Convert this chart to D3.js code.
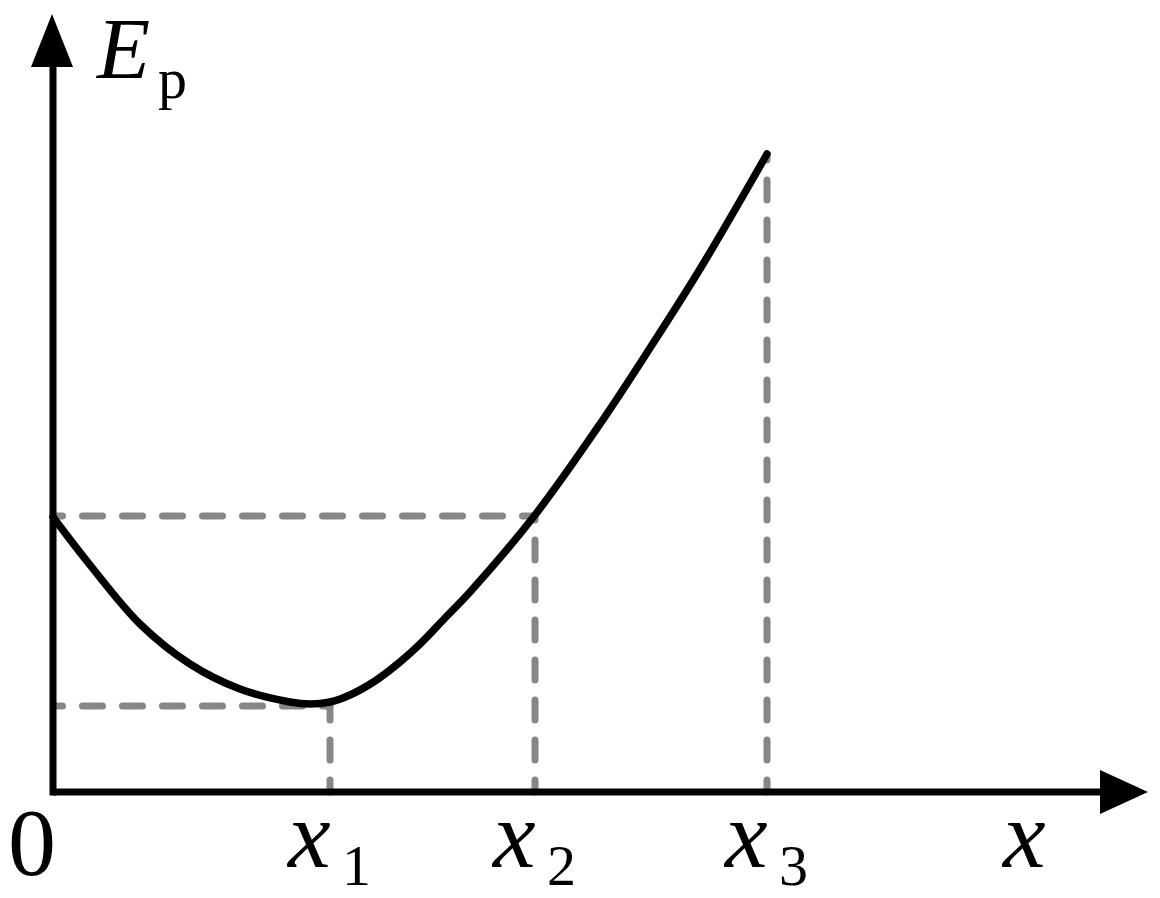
<!DOCTYPE html>
<html>
<head>
<meta charset="utf-8">
<script src="https://cdn.jsdelivr.net/npm/d3@7"></script>
<style>
  html, body { margin: 0; padding: 0; background: #fff; }
  svg { display: block; }
</style>
</head>
<body>
<svg id="chart" width="1160" height="898"></svg>
<script>
// ---- data (abstract units) ----
const curveX = [0, 0.37, 0.87, 1.37, 1.87, 2.37, 2.57, 2.77, 2.97, 3.22, 3.47, 3.67, 3.92, 4.17, 4.82, 5.47, 5.97, 6.47, 7.14];
const curveY = [2.75, 2.27, 1.68, 1.28, 1.03, 0.90, 0.88, 0.90, 0.97, 1.11, 1.30, 1.48, 1.74, 2.00, 2.77, 3.68, 4.44, 5.23, 6.38];
const tickNames = ["x", "x", "x"];
const tickSubs = ["1", "2", "3"];
const tickValues = [2.77, 4.82, 7.14];
const levelValues = [2.76, 0.86];          // horizontal dashed levels
const levelEnds = [4.82, 2.77];            // where the horizontal dashes end
const vertTops = [0.86, 2.76, 6.38];       // where vertical dashes start
const axisMax = { x: 10.95, y: 7.78 };
const labels = { origin: "0", xAxis: "x", yAxis: "E", ySub: "p" };

const FONT = "'Liberation Serif', 'Times New Roman', Times, serif";

// ---- scales ----
const x = d3.scaleLinear().domain([0, axisMax.x]).range([53, 1148]);
const y = d3.scaleLinear().domain([0, axisMax.y]).range([792, 14]);

const svg = d3.select("#chart");
const gray = "#878787";

// dashed guide lines
const guides = svg.append("g")
  .attr("stroke", gray).attr("stroke-width", 7)
  .attr("stroke-linecap", "round").attr("stroke-dasharray", "20,20").attr("fill", "none");

levelValues.forEach((v, i) => {
  guides.append("line")
    .attr("x1", x(0)).attr("x2", x(levelEnds[i]))
    .attr("y1", y(v)).attr("y2", y(v))
    .attr("stroke-dashoffset", 10.5);
});
tickValues.forEach((t, i) => {
  guides.append("line")
    .attr("x1", x(t)).attr("x2", x(t))
    .attr("y1", y(0)).attr("y2", y(vertTops[i]))
    .attr("stroke-dashoffset", 8);
});

// curve
const pts = curveX.map((v, i) => [v, curveY[i]]);
svg.append("path")
  .datum(pts)
  .attr("fill", "none").attr("stroke", "#000").attr("stroke-width", 7.5)
  .attr("stroke-linecap", "round").attr("stroke-linejoin", "round")
  .attr("d", d3.line().x(d => x(d[0])).y(d => y(d[1])).curve(d3.curveCatmullRom.alpha(0.5)));

// axes
const axisG = svg.append("g").attr("stroke", "#000").attr("stroke-width", 7);
axisG.append("line")
  .attr("x1", x(0)).attr("x2", x(axisMax.x) - 40)
  .attr("y1", y(0)).attr("y2", y(0));
axisG.append("line")
  .attr("x1", x(0)).attr("x2", x(0))
  .attr("y1", y(0) + 3.5).attr("y2", y(axisMax.y) + 45);
// arrowheads
const tipX = [x(axisMax.x), y(0)];
svg.append("path").attr("fill", "#000")
  .attr("d", `M${tipX[0]},${tipX[1]} L${tipX[0] - 48},${tipX[1] - 22} L${tipX[0] - 48},${tipX[1] + 22} Z`);
const tipY = [x(0) - 1, y(axisMax.y)];
svg.append("path").attr("fill", "#000")
  .attr("d", `M${tipY[0]},${tipY[1]} L${tipY[0] - 21},${tipY[1] + 53} L${tipY[0] + 21},${tipY[1] + 53} Z`);

// labels
function txt(px, py, size, str, italic) {
  return svg.append("text")
    .attr("x", px).attr("y", py)
    .attr("font-family", FONT)
    .attr("font-size", size)
    .attr("font-style", italic ? "italic" : "normal")
    .attr("fill", "#000")
    .text(str);
}

txt(x(0) - 21, 875, 96, labels.origin, false).attr("text-anchor", "middle");

tickValues.forEach((t, i) => {
  txt(x(t) - 42, 867, 96, tickNames[i], true);
  txt(x(t) + 12, 885, 58, tickSubs[i], false);
});

txt(1003, 867, 96, labels.xAxis, true);
txt(97, 78, 87, labels.yAxis, true);
txt(158, 98, 58, labels.ySub, false);
</script>
</body>
</html>
